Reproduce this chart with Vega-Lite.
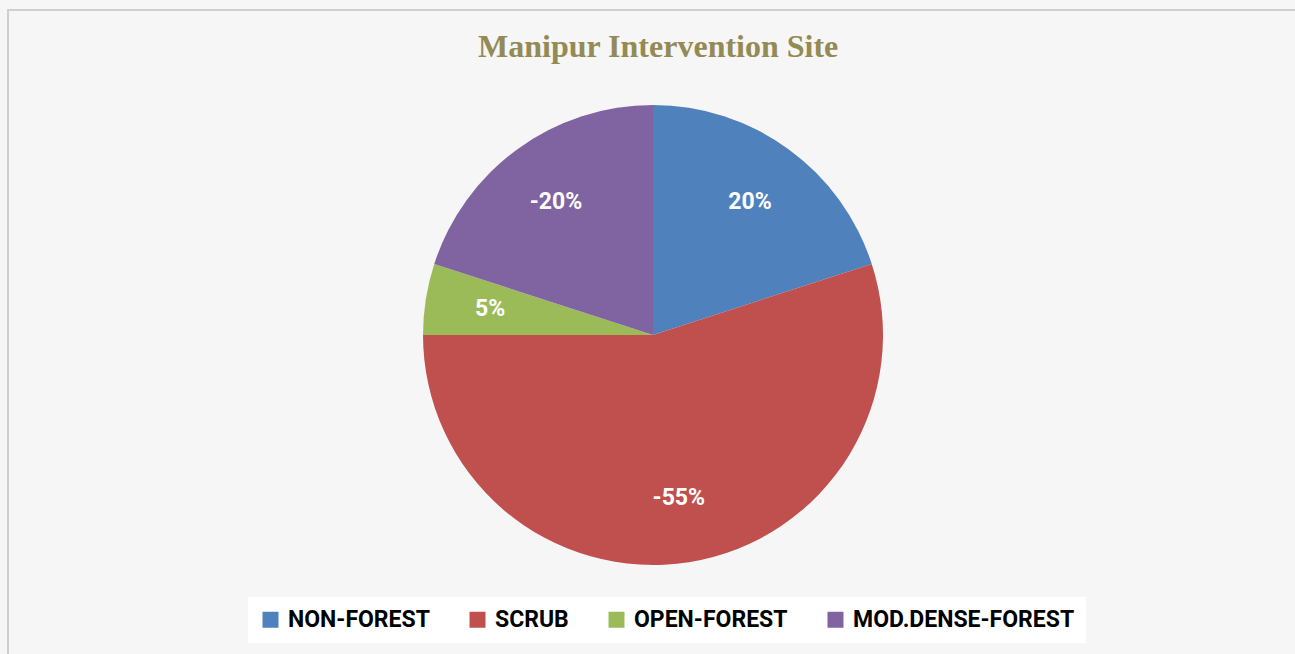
{
  "$schema": "https://vega.github.io/schema/vega-lite/v6.json",
  "autosize": {"type": "none"},
  "width": 1290,
  "height": 650,
  "padding": {"left": 8, "top": 10, "right": 0, "bottom": 0},
  "background": "#f6f6f6",
  "view": {"stroke": "#cfcfcf", "strokeWidth": 2},
  "title": {
    "text": "Manipur Intervention Site",
    "font": "Liberation Serif",
    "fontSize": 32,
    "fontWeight": "bold",
    "color": "#948A54",
    "anchor": "start",
    "frame": "group",
    "orient": "top",
    "baseline": "alphabetic",
    "offset": -79,
    "dx": 470
  },
  "data": {
    "values": [
      {"category": "NON-FOREST", "share": 20, "label": "20%", "order": 1},
      {"category": "SCRUB", "share": 55, "label": "-55%", "order": 2},
      {"category": "OPEN-FOREST", "share": 5, "label": "5%", "order": 3},
      {"category": "MOD.DENSE-FOREST", "share": 20, "label": "-20%", "order": 4}
    ]
  },
  "encoding": {
    "theta": {"field": "share", "type": "quantitative", "stack": true},
    "order": {"field": "order", "type": "quantitative"}
  },
  "layer": [
    {
      "mark": {"type": "arc", "radius": 230, "stroke": null},
      "encoding": {
        "color": {
          "field": "category",
          "type": "nominal",
          "scale": {
            "domain": ["NON-FOREST", "SCRUB", "OPEN-FOREST", "MOD.DENSE-FOREST"],
            "range": ["#4F81BD", "#C0504D", "#9BBB59", "#8064A2"]
          },
          "legend": {
            "title": null,
            "orient": "none",
            "legendX": 240,
            "legendY": 587,
            "direction": "horizontal",
            "columns": 4,
            "columnPadding": 36,
            "fillColor": "white",
            "padding": 11,
            "symbolType": "square",
            "symbolSize": 256,
            "symbolStrokeWidth": 0,
            "symbolOpacity": 1,
            "labelFont": "Roboto",
            "labelFontSize": 23,
            "labelFontWeight": "bold",
            "labelColor": "black",
            "labelOffset": 6,
            "labelLimit": 400
          }
        }
      }
    },
    {
      "mark": {"type": "text", "radius": 165, "font": "Roboto", "fontSize": 23, "fontWeight": "bold", "fill": "white"},
      "encoding": {
        "text": {"field": "label", "type": "nominal"}
      }
    }
  ]
}
